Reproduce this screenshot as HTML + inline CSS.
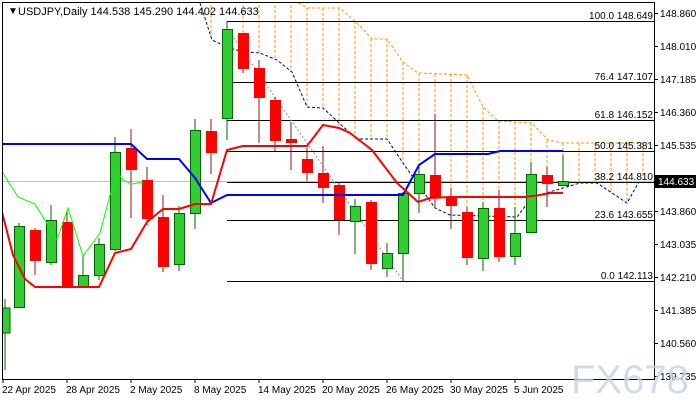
<!DOCTYPE html>
<html><head><meta charset="utf-8"><style>
html,body{margin:0;padding:0;background:#fff;}
svg{display:block;font-family:"Liberation Sans",sans-serif;}
</style></head><body>
<svg width="700" height="400" viewBox="0 0 700 400" xmlns="http://www.w3.org/2000/svg">
<rect width="700" height="400" fill="#fff"/>
<defs><clipPath id="c"><rect x="2" y="2" width="652" height="377"/></clipPath></defs>
<g clip-path="url(#c)">
<g stroke="#ff9900" stroke-width="1" stroke-dasharray="3,2">
<line x1="211" y1="0" x2="211" y2="40"/>
<line x1="243" y1="0" x2="243" y2="52"/><line x1="259" y1="0" x2="259" y2="53"/>
<line x1="275" y1="0" x2="275" y2="60"/><line x1="291" y1="0" x2="291" y2="72"/>
<line x1="307" y1="8" x2="307" y2="107"/><line x1="323" y1="8" x2="323" y2="108"/>
<line x1="339" y1="8" x2="339" y2="126"/><line x1="355" y1="21" x2="355" y2="139"/>
<line x1="371" y1="39" x2="371" y2="139"/><line x1="387" y1="39" x2="387" y2="139"/>
<line x1="403" y1="62" x2="403" y2="163"/><line x1="419" y1="73" x2="419" y2="185"/>
<line x1="435" y1="74" x2="435" y2="208"/><line x1="451" y1="74" x2="451" y2="215"/>
<line x1="467" y1="75" x2="467" y2="217"/><line x1="483" y1="107" x2="483" y2="217"/>
<line x1="499" y1="121" x2="499" y2="217"/><line x1="515" y1="122" x2="515" y2="217"/>
<line x1="531" y1="123" x2="531" y2="197"/><line x1="547" y1="140" x2="547" y2="191"/>
<line x1="563" y1="143" x2="563" y2="188"/><line x1="579" y1="143" x2="579" y2="183"/>
<line x1="595" y1="143" x2="595" y2="183"/><line x1="611" y1="143" x2="611" y2="193"/>
<line x1="627" y1="143" x2="627" y2="203"/><line x1="643" y1="143" x2="643" y2="180"/>
</g>
<polyline fill="none" stroke="#ff9900" stroke-width="1" stroke-dasharray="3,2" points="200,-5 290,-2 307,8 340,8 350,17 357,23 372,39 387,39 403,62 418,73 467,75 483,107 498,121 532,123 548,140 563,143 645,143"/>
<polyline fill="none" stroke="#000080" stroke-width="1" stroke-dasharray="3,2" points="200,3 212,40 227,47 243,52 260,53 277,60 292,72 307,107 323,108 350,133 357,139 387,139 403,163 435,208 450,215 517,217 532,197 563,188 580,183 597,183 612,193 627,203 640,180"/>
<g stroke="#000" stroke-width="1">
<line x1="227" y1="21.5" x2="654" y2="21.5"/><line x1="227" y1="82.5" x2="654" y2="82.5"/>
<line x1="227" y1="120.5" x2="654" y2="120.5"/><line x1="227" y1="151.5" x2="654" y2="151.5"/>
<line x1="227" y1="182.5" x2="654" y2="182.5"/><line x1="227" y1="220.5" x2="654" y2="220.5"/>
<line x1="227" y1="281.5" x2="654" y2="281.5"/>
</g>
<line x1="2" y1="181.5" x2="654" y2="181.5" stroke="#c0c0c0" stroke-width="1"/>
<line x1="229" y1="31" x2="403" y2="281" stroke="#909090" stroke-width="1" stroke-dasharray="2,2"/>
<g font-size="10" fill="#000" text-anchor="end">
<text x="653" y="19">100.0 148.649</text><text x="653" y="80">76.4 147.107</text>
<text x="653" y="118">61.8 146.152</text><text x="653" y="149">50.0 145.381</text>
<text x="653" y="180">38.2 144.810</text><text x="653" y="218">23.6 143.655</text>
<text x="653" y="279">0.0 142.113</text>
</g>
<g stroke="#006400" fill="#32cd32">
<line x1="5" y1="299" x2="5" y2="370"/><rect x="0" y="308" width="10" height="25"/>
<line x1="19" y1="223" x2="19" y2="308"/><rect x="14.5" y="226.5" width="10" height="81"/>
<line x1="51" y1="205" x2="51" y2="265"/><rect x="46.5" y="220.5" width="10" height="42"/>
<line x1="83" y1="255" x2="83" y2="288"/><rect x="78.5" y="275.5" width="10" height="12"/>
<line x1="99" y1="238" x2="99" y2="280"/><rect x="94.5" y="244.5" width="10" height="31"/>
<line x1="115" y1="137" x2="115" y2="251"/><rect x="110.5" y="152.5" width="10" height="97"/>
<line x1="179" y1="206" x2="179" y2="271"/><rect x="174.5" y="213.5" width="10" height="51"/>
<line x1="195" y1="119" x2="195" y2="229"/><rect x="190.5" y="130.5" width="10" height="83"/>
<line x1="227" y1="21" x2="227" y2="140"/><rect x="222.5" y="29.5" width="10" height="89"/>
<line x1="355" y1="199" x2="355" y2="254"/><rect x="350.5" y="206.5" width="10" height="15"/>
<line x1="387" y1="243" x2="387" y2="277"/><rect x="382.5" y="253.5" width="10" height="15"/>
<line x1="403" y1="192" x2="403" y2="281"/><rect x="398.5" y="193.5" width="10" height="60"/>
<line x1="419" y1="167" x2="419" y2="213"/><rect x="414.5" y="174.5" width="10" height="19"/>
<line x1="483" y1="202" x2="483" y2="271"/><rect x="478.5" y="208.5" width="10" height="50"/>
<line x1="515" y1="207" x2="515" y2="265"/><rect x="510.5" y="233.5" width="10" height="23"/>
<line x1="531" y1="162" x2="531" y2="233"/><rect x="526.5" y="174.5" width="10" height="58"/>
<line x1="563" y1="155" x2="563" y2="185"/><rect x="558.5" y="181.5" width="10" height="4"/>
</g>
<g stroke="#8b1a1a" fill="#ff0000">
<line x1="35" y1="228" x2="35" y2="275"/><rect x="30" y="230" width="11" height="31" stroke="none"/>
<line x1="67" y1="210" x2="67" y2="288"/><rect x="62" y="222" width="11" height="65" stroke="none"/>
<line x1="131" y1="129" x2="131" y2="218"/><rect x="126" y="148" width="11" height="22" stroke="none"/>
<line x1="147" y1="167" x2="147" y2="225"/><rect x="142" y="180" width="11" height="39" stroke="none"/>
<line x1="163" y1="195" x2="163" y2="272"/><rect x="158" y="217" width="11" height="50" stroke="none"/>
<line x1="211" y1="119" x2="211" y2="174"/><rect x="206" y="131" width="11" height="22" stroke="none"/>
<line x1="243" y1="33" x2="243" y2="73"/><rect x="238" y="33" width="11" height="36" stroke="none"/>
<line x1="259" y1="60" x2="259" y2="143"/><rect x="254" y="68" width="11" height="30" stroke="none"/>
<line x1="275" y1="97" x2="275" y2="151"/><rect x="270" y="100" width="11" height="41" stroke="none"/>
<line x1="291" y1="122" x2="291" y2="170"/><rect x="286" y="139" width="11" height="4" stroke="none"/>
<line x1="307" y1="148" x2="307" y2="181"/><rect x="302" y="159" width="11" height="14" stroke="none"/>
<line x1="323" y1="146" x2="323" y2="203"/><rect x="318" y="173" width="11" height="15" stroke="none"/>
<line x1="339" y1="183" x2="339" y2="235"/><rect x="334" y="185" width="11" height="35" stroke="none"/>
<line x1="371" y1="200" x2="371" y2="270"/><rect x="366" y="202" width="11" height="62" stroke="none"/>
<line x1="435" y1="114" x2="435" y2="208"/><rect x="430" y="175" width="11" height="23" stroke="none"/>
<line x1="451" y1="188" x2="451" y2="229"/><rect x="446" y="198" width="11" height="8" stroke="none"/>
<line x1="467" y1="207" x2="467" y2="265"/><rect x="462" y="212" width="11" height="46" stroke="none"/>
<line x1="499" y1="190" x2="499" y2="262"/><rect x="494" y="208" width="11" height="49" stroke="none"/>
<line x1="547" y1="167" x2="547" y2="207"/><rect x="542" y="175" width="11" height="9" stroke="none"/>
</g>
<polyline fill="none" stroke="#00ff00" stroke-width="1" points="3,173 18,197 35,204 57,240 68,208 83,256 100,233 110,195 118,173 123,180 132,184 143,182"/>
<polyline fill="none" stroke="#0000ff" stroke-width="2" points="2,144 131,144 147,159 179,159 195,178 211,203 227,195 403,195 419,165 435,154 488,154 500,151 563,151"/>
<polyline fill="none" stroke="#ff0000" stroke-width="2" points="2,212 13,255 25,279 35,287 99,287 115,253 131,249 147,222 163,209 179,209 195,204 211,204 227,150 243,146 307,146 323,125 339,128 350,133 372,150 397,183 418,202 430,198 450,197 525,197 540,195 550,193 563,193"/>
</g>
<rect x="2.5" y="2.5" width="652" height="377" fill="none" stroke="#000"/>
<text x="8" y="14" font-size="10" fill="#000">▼</text>
<text x="18" y="15" font-size="11" fill="#000">USDJPY,Daily  144.538 145.290 144.402 144.633</text>
<g stroke="#000">
<line x1="654" y1="13.5" x2="658" y2="13.5"/><line x1="654" y1="46.5" x2="658" y2="46.5"/>
<line x1="654" y1="79.5" x2="658" y2="79.5"/><line x1="654" y1="112.5" x2="658" y2="112.5"/>
<line x1="654" y1="145.5" x2="658" y2="145.5"/><line x1="654" y1="211.5" x2="658" y2="211.5"/>
<line x1="654" y1="244.5" x2="658" y2="244.5"/><line x1="654" y1="277.5" x2="658" y2="277.5"/>
<line x1="654" y1="310.5" x2="658" y2="310.5"/><line x1="654" y1="343.5" x2="658" y2="343.5"/>
<line x1="654" y1="376.5" x2="658" y2="376.5"/>
</g>
<g font-size="10" fill="#000">
<text x="660" y="17">148.860</text><text x="660" y="50">148.010</text><text x="660" y="83">147.185</text>
<text x="660" y="116">146.360</text><text x="660" y="149">145.535</text><text x="660" y="215">143.860</text>
<text x="660" y="248">143.035</text><text x="660" y="281">142.210</text><text x="660" y="314">141.385</text>
<text x="660" y="347">140.560</text><text x="660" y="380">139.735</text>
</g>
<rect x="655" y="175" width="41" height="13" fill="#000"/>
<text x="658" y="185" font-size="10" fill="#fff">144.633</text>
<text x="571" y="393" font-size="40" fill="#c8d4e4" opacity="0.8">FX678</text>
<g stroke="#000"><line x1="3" y1="379" x2="3" y2="383"/><line x1="67" y1="379" x2="67" y2="383"/>
<line x1="131" y1="379" x2="131" y2="383"/><line x1="195" y1="379" x2="195" y2="383"/>
<line x1="259" y1="379" x2="259" y2="383"/><line x1="323" y1="379" x2="323" y2="383"/>
<line x1="387" y1="379" x2="387" y2="383"/><line x1="451" y1="379" x2="451" y2="383"/>
<line x1="515" y1="379" x2="515" y2="383"/></g>
<g font-size="10" fill="#000">
<text x="2" y="393">22 Apr 2025</text><text x="66" y="393">28 Apr 2025</text><text x="130" y="393">2 May 2025</text>
<text x="194" y="393">8 May 2025</text><text x="258" y="393">14 May 2025</text><text x="322" y="393">20 May 2025</text>
<text x="386" y="393">26 May 2025</text><text x="450" y="393">30 May 2025</text><text x="514" y="393">5 Jun 2025</text>
</g>
</svg>
</body></html>
